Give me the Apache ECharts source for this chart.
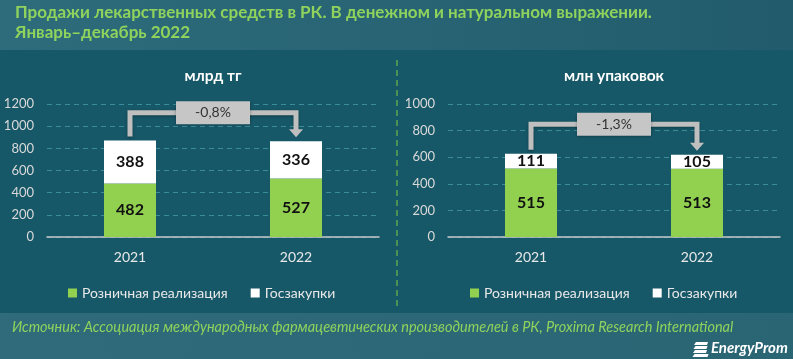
<!DOCTYPE html>
<html>
<head>
<meta charset="utf-8">
<script src="https://cdn.jsdelivr.net/npm/echarts@6/dist/echarts.min.js"></script>
<style>
html,body{margin:0;padding:0;background:#175868;}
#c{width:793px;height:359px;}
</style>
</head>
<body>
<div id="c"></div>
<script>
// ---- data ----
const years = ['2021', '2022'];
const seriesNames = ['Розничная реализация', 'Госзакупки'];
const moneyRetail = [482, 527];
const moneyGov = [388, 336];
const packsRetail = [515, 513];
const packsGov = [111, 105];
const moneyTicks = [0, 200, 400, 600, 800, 1000, 1200];
const packsTicks = [0, 200, 400, 600, 800, 1000];
const changeLabels = ['-0,8%', '-1,3%'];
const panelTitles = ['млрд тг', 'млн упаковок'];
const titleLines = ['Продажи лекарственных средств в РК. В денежном и натуральном выражении.', 'Январь–декабрь 2022'];
const sourceText = 'Источник: Ассоциация международных фармацевтических производителей в РК, Proxima Research International';

const FONT = 'Lato, "Noto Sans", sans-serif';
const GREEN = '#92d050';
const chart = echarts.init(document.getElementById('c'));

function barSeries(name, data, idx, color) {
  return {
    name: name, type: 'bar', stack: 's' + idx, xAxisIndex: idx, yAxisIndex: idx,
    data: data, barWidth: 52, itemStyle: { color: color },
    label: { show: true, position: 'inside', color: '#111', fontWeight: 'bold', fontSize: 16, fontFamily: FONT }
  };
}
function yAx(idx, ticks) {
  return {
    type: 'value', gridIndex: idx, min: ticks[0], max: ticks[ticks.length - 1], interval: ticks[1] - ticks[0],
    axisLabel: { color: '#d9d9d9', fontSize: 13, fontFamily: FONT, margin: 13, formatter: function (v) { return String(v); } },
    axisLine: { show: false }, axisTick: { show: false },
    splitLine: { lineStyle: { color: '#3b8c9a', type: [5, 4], width: 1 } }
  };
}
function xAx(idx) {
  return {
    type: 'category', gridIndex: idx, data: years,
    axisLabel: { color: '#e8e8e8', fontSize: 14, fontFamily: FONT, margin: 13 },
    axisLine: { lineStyle: { color: '#c8c8c8', width: 1.5 } }, axisTick: { show: false }
  };
}
function legend(left) {
  return {
    left: left, top: 281, itemWidth: 9, itemHeight: 9, itemGap: 23, icon: 'rect',
    data: seriesNames, selectedMode: false,
    textStyle: { color: '#e8e8e8', fontSize: 14, fontFamily: FONT, padding: [0, 0, 0, 0] }
  };
}

chart.setOption({
  backgroundColor: '#175868',
  animation: false,
  grid: [
    { left: 47, right: 414, top: 104, bottom: 122 },
    { left: 448, right: 13, top: 104, bottom: 122 }
  ],
  xAxis: [xAx(0), xAx(1)],
  yAxis: [yAx(0, moneyTicks), yAx(1, packsTicks)],
  legend: [legend(63), legend(465)],
  series: [
    barSeries(seriesNames[0], moneyRetail, 0, GREEN),
    barSeries(seriesNames[1], moneyGov, 0, '#ffffff'),
    barSeries(seriesNames[0], packsRetail, 1, GREEN),
    barSeries(seriesNames[1], packsGov, 1, '#ffffff')
  ]
});

// ---- decorations, positioned from the axes ----
const bracketLevels = [1120, 848];
const totals = [
  moneyRetail.map((v, i) => v + moneyGov[i]),
  packsRetail.map((v, i) => v + packsGov[i])
];
const g = [];
g.push({ type: 'rect', shape: { x: 0, y: 0, width: 793, height: 50 }, style: { fill: new echarts.graphic.LinearGradient(0, 0, 1, 0, [{ offset: 0, color: '#2e6c7b' }, { offset: 1, color: '#225c6c' }]) }, z: -1 });
g.push({ type: 'rect', shape: { x: 0, y: 313, width: 793, height: 46 }, style: { fill: new echarts.graphic.LinearGradient(0, 0, 1, 0, [{ offset: 0, color: '#2f6b7a' }, { offset: 1, color: '#2a6574' }]) }, z: -1 });
g.push({ type: 'text', left: 15, top: 4, style: { text: titleLines[0], fill: '#8fd35d', font: 'bold 17px ' + FONT } });
g.push({ type: 'text', left: 15, top: 24, style: { text: titleLines[1], fill: '#8fd35d', font: 'bold 17px ' + FONT } });
g.push({ type: 'line', shape: { x1: 397, y1: 60, x2: 397, y2: 310 }, style: { stroke: '#6fb84a', lineWidth: 1.2, lineDash: [6, 4] } });
g.push({ type: 'text', left: 12, top: 320, style: { text: sourceText, fill: '#8fd35d', font: 'italic 14.5px ' + FONT } });
// logo
for (let k = 0; k < 4; k++) {
  g.push({ type: 'polygon', shape: { points: [[695 + 1 - k * 0.5, 342 + k * 4], [708 - k * 0.5 + (k === 3 ? 2 : 0), 342 + k * 4], [707 - k * 0.5 + (k===3?2:0), 345 + k * 4], [694 - k * 0.5, 345 + k * 4]] }, style: { fill: '#ffffff' } });
}
g.push({ type: 'text', left: 711, top: 341, style: { text: 'EnergyProm', fill: '#ffffff', font: 'italic bold 15px ' + FONT } });

[0, 1].forEach(function (idx) {
  const f = { xAxisIndex: idx, yAxisIndex: idx };
  const p1 = chart.convertToPixel(f, [0, totals[idx][0]]);
  const p2 = chart.convertToPixel(f, [1, totals[idx][1]]);
  const lv = chart.convertToPixel(f, [0, bracketLevels[idx]])[1];
  const x1 = p1[0], x2 = p2[0];
  const y1 = p1[1] - 4, tip = p2[1] - 4;
  const gray = '#bfbfbf';
  g.push({ type: 'polyline', shape: { points: [[x1, y1], [x1, lv], [x2, lv], [x2, tip - 6]] }, style: { stroke: gray, lineWidth: 5, fill: null, shadowBlur: 3, shadowColor: 'rgba(0,0,0,0.35)', shadowOffsetY: 1 } });
  g.push({ type: 'polygon', shape: { points: [[x2 - 7, tip - 8], [x2 + 7, tip - 8], [x2, tip]] }, style: { fill: gray } });
  const mx = (x1 + x2) / 2;
  g.push({ type: 'rect', shape: { x: mx - 37, y: lv - 11.5, width: 74, height: 23 }, style: { fill: '#c6c6c6', shadowBlur: 3, shadowColor: 'rgba(0,0,0,0.35)', shadowOffsetY: 1 } });
  g.push({ type: 'text', x: mx, y: lv, style: { text: changeLabels[idx], fill: '#333', font: '14px ' + FONT, align: 'center', verticalAlign: 'middle' } });
  const gx = chart.getModel().getComponent('grid', idx).coordinateSystem.getRect();
  g.push({ type: 'text', x: gx.x + gx.width / 2, y: 76, style: { text: panelTitles[idx], fill: '#ffffff', font: 'bold 15.5px ' + FONT, align: 'center', verticalAlign: 'middle' } });
});
chart.setOption({ graphic: g });
</script>
</body>
</html>
